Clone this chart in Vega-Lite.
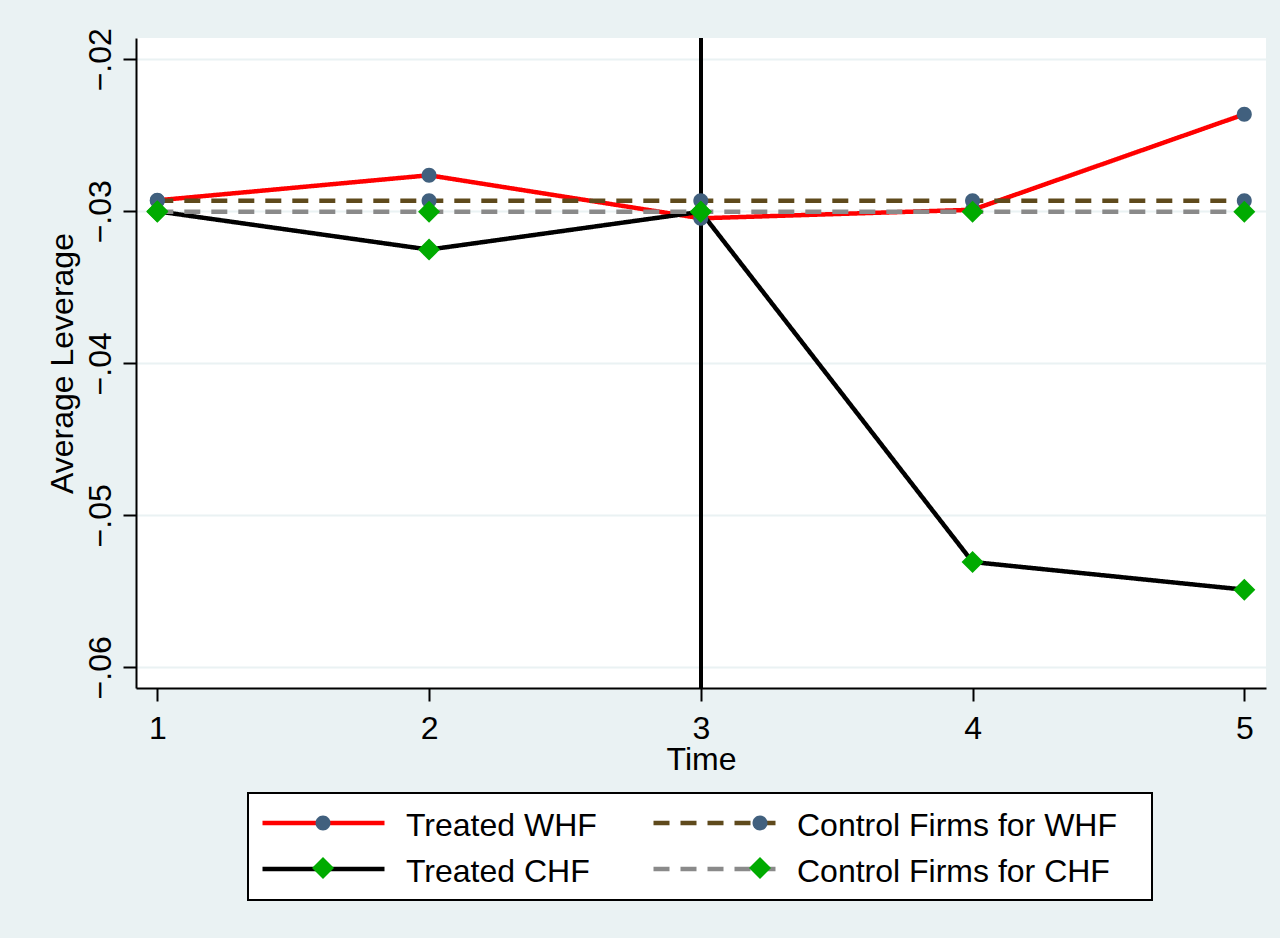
{
  "$schema": "https://vega.github.io/schema/vega-lite/v6.json",
  "width": 1130,
  "height": 650,
  "autosize": {"type": "none"},
  "padding": {"left": 136, "top": 38, "right": 14, "bottom": 250},
  "background": "#EAF2F3",
  "config": {
    "font": "Liberation Sans",
    "view": {"stroke": null, "fill": "white"},
    "axis": {
      "domainColor": "black", "domainWidth": 2,
      "tickColor": "black", "tickWidth": 2, "tickSize": 13,
      "labelFontSize": 32, "labelColor": "black", "labelFont": "Liberation Sans",
      "titleFontSize": 32, "titleColor": "black", "titleFontWeight": "normal", "titleFont": "Liberation Sans",
      "gridColor": "#EAF2F3", "gridWidth": 2
    },
    "legend": {"labelFont": "Liberation Sans", "strokeWidth": 2}
  },
  "data": {
    "values": [
      {"time": 1, "value": -0.02928, "series": "Treated WHF", "marker": "Treated WHF"},
      {"time": 2, "value": -0.02763, "series": "Treated WHF", "marker": "Treated WHF"},
      {"time": 3, "value": -0.03046, "series": "Treated WHF", "marker": "Treated WHF"},
      {"time": 4, "value": -0.02990, "series": "Treated WHF", "marker": "Treated WHF"},
      {"time": 5, "value": -0.02362, "series": "Treated WHF", "marker": "Treated WHF"},
      {"time": 1, "value": -0.02930, "series": "Control Firms for WHF", "marker": "Control Firms for WHF"},
      {"time": 2, "value": -0.02930, "series": "Control Firms for WHF", "marker": "Control Firms for WHF"},
      {"time": 3, "value": -0.02930, "series": "Control Firms for WHF", "marker": "Control Firms for WHF"},
      {"time": 4, "value": -0.02930, "series": "Control Firms for WHF", "marker": "Control Firms for WHF"},
      {"time": 5, "value": -0.02930, "series": "Control Firms for WHF", "marker": "Control Firms for WHF"},
      {"time": 1, "value": -0.03000, "series": "Treated CHF", "marker": "Treated CHF"},
      {"time": 2, "value": -0.03252, "series": "Treated CHF", "marker": "Treated CHF"},
      {"time": 3, "value": -0.03003, "series": "Treated CHF", "marker": "Treated CHF"},
      {"time": 4, "value": -0.05307, "series": "Treated CHF", "marker": "Treated CHF"},
      {"time": 5, "value": -0.05489, "series": "Treated CHF", "marker": "Treated CHF"},
      {"time": 1, "value": -0.03003, "series": "Control Firms for CHF", "marker": "Control Firms for CHF"},
      {"time": 2, "value": -0.03003, "series": "Control Firms for CHF", "marker": "Control Firms for CHF"},
      {"time": 3, "value": -0.03003, "series": "Control Firms for CHF", "marker": "Control Firms for CHF"},
      {"time": 4, "value": -0.03003, "series": "Control Firms for CHF", "marker": "Control Firms for CHF"},
      {"time": 5, "value": -0.03003, "series": "Control Firms for CHF", "marker": "Control Firms for CHF"}
    ]
  },
  "encoding": {
    "x": {
      "field": "time", "type": "quantitative",
      "scale": {"domain": [0.9216, 5.0799], "nice": false, "zero": false},
      "axis": {"values": [1, 2, 3, 4, 5], "format": "d", "grid": false, "title": "Time", "labelPadding": 12, "titlePadding": 0}
    },
    "y": {
      "field": "value", "type": "quantitative",
      "scale": {"domain": [-0.06136, -0.0186], "nice": false, "zero": false},
      "axis": {
        "values": [-0.06, -0.05, -0.04, -0.03, -0.02],
        "labelExpr": "replace(format(datum.value, '.2f'), '0.', '.')",
        "labelAngle": 270, "labelAlign": "center", "labelBaseline": "bottom", "labelPadding": 6,
        "grid": true, "title": "Average Leverage", "titlePadding": 5
      }
    }
  },
  "layer": [
    {
      "mark": {"type": "rule", "color": "black", "strokeWidth": 3},
      "encoding": {"x": {"datum": 3, "type": "quantitative"}, "y": null}
    },
    {
      "mark": {"type": "line", "strokeWidth": 4.5},
      "encoding": {
        "stroke": {
          "field": "series", "type": "nominal",
          "scale": {"domain": ["Treated WHF", "Control Firms for WHF", "Treated CHF", "Control Firms for CHF"],
                    "range": ["#FF0000", "#5F4A1C", "#000000", "#8A8A8A"]},
          "legend": {
            "orient": "none", "legendX": 112, "legendY": 755, "title": null, "columns": 2,
            "direction": "horizontal",
            "symbolType": "stroke", "symbolSize": 14884, "symbolStrokeWidth": 4.5,
            "labelFontSize": 32, "labelColor": "black", "labelLimit": 2000,
            "labelOffset": 19, "columnPadding": 31, "rowPadding": 9, "clipHeight": 36,
            "padding": 12, "fillColor": "white", "strokeColor": "black",
            "labelExpr": "datum.label + '\u2800'", "zindex": 1,
            "encode": {"labels": {"update": {"dy": {"value": 3}}}}
          }
        },
        "strokeDash": {
          "field": "series", "type": "nominal",
          "scale": {"domain": ["Treated WHF", "Control Firms for WHF", "Treated CHF", "Control Firms for CHF"],
                    "range": [[1, 0], [16, 11], [1, 0], [16, 11]]},
          "legend": {
            "orient": "none", "legendX": 112, "legendY": 755, "title": null, "columns": 2,
            "direction": "horizontal",
            "symbolType": "stroke", "symbolSize": 14884, "symbolStrokeWidth": 4.5,
            "labelFontSize": 32, "labelColor": "black", "labelLimit": 2000,
            "labelOffset": 19, "columnPadding": 31, "rowPadding": 9, "clipHeight": 36,
            "padding": 12, "fillColor": "white", "strokeColor": "black",
            "labelExpr": "datum.label + '\u2800'", "zindex": 1,
            "encode": {"labels": {"update": {"dy": {"value": 3}}}}
          }
        }
      }
    },
    {
      "mark": {"type": "point", "filled": true, "opacity": 1, "strokeWidth": 0, "size": 484},
      "encoding": {
        "fill": {
          "field": "marker", "type": "nominal",
          "scale": {"domain": ["Control Firms for CHF", "Treated CHF", "Control Firms for WHF", "Treated WHF"],
                    "range": ["#00AB00", "#00AB00", "#41607E", "#41607E"]},
          "legend": {
            "orient": "none", "legendX": 112, "legendY": 755, "title": null, "columns": 2,
            "direction": "horizontal",
            "values": ["Treated WHF", "Control Firms for WHF", "Treated CHF", "Control Firms for CHF"],
            "symbolSize": 484, "symbolStrokeWidth": 0, "symbolOpacity": 1, "symbolOffset": 47,
            "labelFontSize": 32, "labelLimit": 2000, "labelOpacity": 0,
            "labelOffset": 113, "columnPadding": 31, "rowPadding": 9, "clipHeight": 36,
            "padding": 12, "labelExpr": "datum.label + '\u2800'", "zindex": 2
          }
        },
        "shape": {
          "field": "marker", "type": "nominal",
          "scale": {"domain": ["Control Firms for CHF", "Treated CHF", "Control Firms for WHF", "Treated WHF"],
                    "range": ["diamond", "diamond",
            "M0.68,0A0.68,0.68 0 1,1 -0.68,0A0.68,0.68 0 1,1 0.68,0Z",
            "M0.68,0A0.68,0.68 0 1,1 -0.68,0A0.68,0.68 0 1,1 0.68,0Z"]},
          "legend": {
            "orient": "none", "legendX": 112, "legendY": 755, "title": null, "columns": 2,
            "direction": "horizontal",
            "values": ["Treated WHF", "Control Firms for WHF", "Treated CHF", "Control Firms for CHF"],
            "symbolSize": 484, "symbolStrokeWidth": 0, "symbolOpacity": 1, "symbolOffset": 47,
            "labelFontSize": 32, "labelLimit": 2000, "labelOpacity": 0,
            "labelOffset": 113, "columnPadding": 31, "rowPadding": 9, "clipHeight": 36,
            "padding": 12, "labelExpr": "datum.label + '\u2800'", "zindex": 2
          }
        }
      }
    }
  ]
}
